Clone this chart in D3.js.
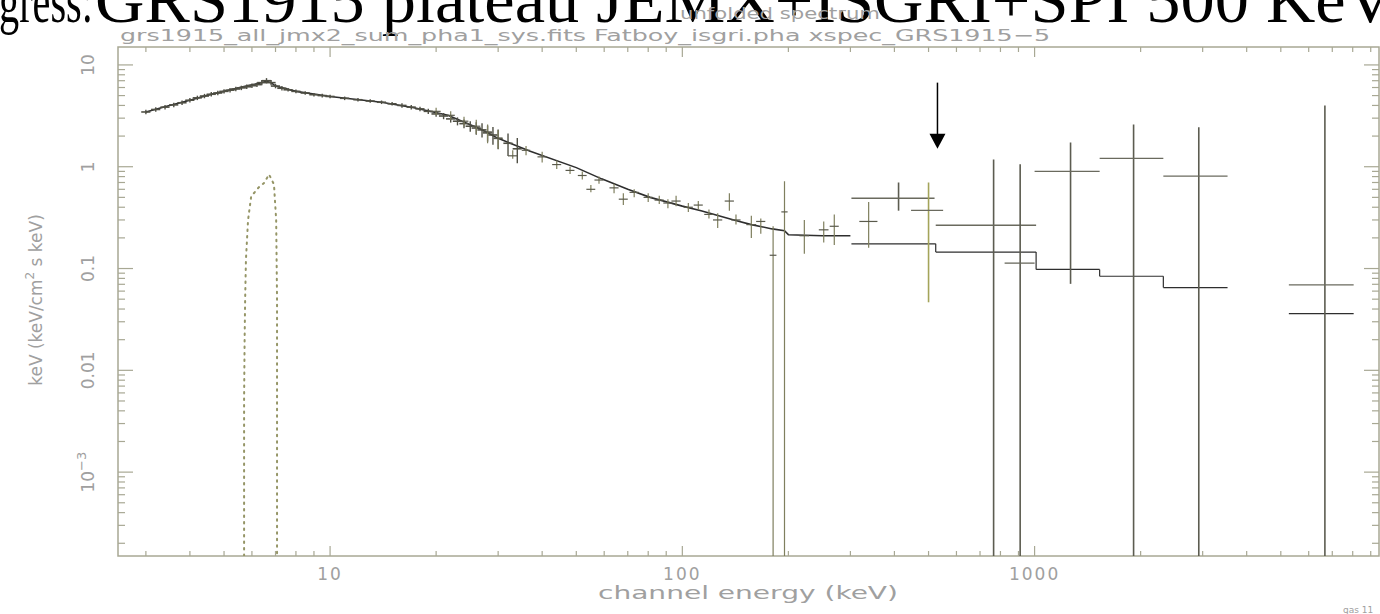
<!DOCTYPE html>
<html>
<head>
<meta charset="utf-8">
<script src="https://cdn.jsdelivr.net/npm/d3@7"></script>
<style>
body { margin: 0; background: #fff; }
svg text { font-family: "DejaVu Sans", sans-serif; }
</style>
</head>
<body>
<svg id="chart" width="1380" height="614"></svg>
<script>
// JEM-X points (keV, keV^2 flux), with relative error
var jemxE = [3.0,3.2,3.4,3.6,3.8,4.0,4.2,4.4,4.6,4.8,5.0,5.2,5.4,5.6,5.8,6.0,6.2,6.4,6.6,6.8,7.0,7.3,7.6,8.0,8.5,9.0,9.5,10,11,12,13,14,15,16,17,18,19,20,21,22,23,24,25,26,27,28,29,30,32,34];
var jemxF = [3.45,3.65,3.85,4.05,4.25,4.5,4.75,4.95,5.15,5.3,5.5,5.65,5.8,5.95,6.1,6.25,6.4,6.7,7.0,6.7,6.2,5.9,5.7,5.5,5.3,5.1,5.0,4.9,4.7,4.55,4.42,4.3,4.15,4.0,3.85,3.7,3.5,3.3,3.15,2.95,2.8,2.65,2.5,2.4,2.3,2.15,2.05,1.9,1.7,1.5];
var jemxErr = [0.05,0.05,0.05,0.05,0.05,0.05,0.05,0.05,0.05,0.05,0.05,0.05,0.05,0.05,0.05,0.05,0.05,0.06,0.06,0.06,0.05,0.05,0.04,0.04,0.04,0.04,0.04,0.04,0.04,0.04,0.04,0.04,0.04,0.05,0.05,0.05,0.06,0.06,0.07,0.08,0.09,0.1,0.12,0.14,0.16,0.18,0.2,0.22,0.25,0.28];

// ISGRI points
var isgriE  = [20,22,24,26,28,30,33,36,40,44,48,52,55,58,64,68,73,80,86,91,96,104,111,119,126,136,142,157,167,181,195,222,252,270,338];
var isgriF  = [3.5,3.2,2.8,2.5,2.2,1.9,1.28,1.45,1.25,1.05,0.92,0.82,0.6,0.74,0.62,0.48,0.56,0.5,0.47,0.44,0.46,0.4,0.42,0.34,0.3,0.46,0.3,0.27,0.29,0.135,0.36,0.21,0.24,0.26,0.29];
var isgriLo = [3.2,2.9,2.5,2.1,1.7,1.5,1.2,1.3,1.1,0.95,0.85,0.75,0.56,0.68,0.55,0.42,0.5,0.45,0.43,0.39,0.41,0.36,0.38,0.31,0.25,0.37,0.27,0.2,0.22,0.0001,0.0001,0.14,0.18,0.17,0.16];
var isgriHi = [3.8,3.5,3.1,2.9,2.6,2.3,1.45,1.6,1.4,1.15,1.0,0.9,0.66,0.8,0.68,0.55,0.6,0.55,0.52,0.48,0.52,0.44,0.46,0.38,0.35,0.55,0.34,0.33,0.31,0.26,0.72,0.3,0.29,0.34,0.45];
var isgriDE = [0.6,0.6,0.7,0.7,0.8,0.8,1,1,1.2,1.3,1.4,1.5,1.6,1.7,1.9,2,2.2,2.4,2.6,2.7,2.9,3.1,3.3,3.6,3.8,4.1,4.3,5,5,4,4,7,8,8,20];

// SPI bins
var spiE   = [411,500,765,910,1265,1910,2925,6670];
var spiF   = [0.49,0.373,0.266,0.113,0.9,1.21,0.81,0.069];
var spiLo  = [0.37,0.0466,0.0001,0.0001,0.0707,0.0001,0.0001,0.0001];
var spiHi  = [0.7,0.7,1.18,1.06,1.73,2.6,2.44,4.0];
var spiBin0 = [302,446,524,822,1000,1530,2320,5270];
var spiBin1 = [520,550,1010,1000,1530,2320,3530,8050];

// model: continuum curve then SPI steps
var modelE = [3.0,3.5,4.0,4.5,5.0,5.5,5.9,6.3,6.6,6.8,7.0,8.0,10,14,17.3,21.6,26.8,30,37,50,59,70,81,100,113,140,157,180,195,200,250,300];
var modelF = [3.45,4.0,4.5,5.05,5.5,5.95,6.3,6.6,6.9,6.7,6.2,5.5,4.9,4.3,3.8,3.2,2.33,1.9,1.42,0.98,0.76,0.6,0.5,0.41,0.37,0.3,0.27,0.245,0.235,0.215,0.21,0.21];
var stepE0 = [302,524,1010,1530,2320,5270];
var stepE1 = [524,1010,1530,2320,3530,8050];
var stepF  = [0.175,0.145,0.098,0.084,0.065,0.036];

// iron line component (dotted)
var lineE = [5.70,5.70,5.72,5.74,5.77,5.85,5.97,6.28,6.49,6.71,6.93,7.03,7.07,7.07,7.07];
var lineF = [0.00015,0.0052,0.02,0.05,0.123,0.30,0.51,0.63,0.69,0.84,0.67,0.30,0.05,0.0017,0.00015];

var xTickVals = [10, 100, 1000];
var xTickText = ["10", "100", "1000"];
var yTickVals = [10, 1, 0.1, 0.01, 0.001];
var yTickText = ["10", "1", "0.1", "0.01", "10"];

var axisCol = "#a8a894",
    textCol = "#a0a0a0",
    dataCol = "#4f4f44",
    modelCol = "#2e2e2e";

var svg = d3.select("#chart");
svg.append("rect").attr("width", 1380).attr("height", 614).attr("fill", "#fff");

var x = d3.scaleLog().domain([2.5, 9500]).range([118, 1379]);
var y = d3.scaleLog().domain([1.5e-4, 15]).range([556, 47]);

var x0 = x.range()[0], x1 = x.range()[1],
    y0 = y.range()[1], y1 = y.range()[0];

svg.append("clipPath").attr("id", "clip")
  .append("rect").attr("x", x0).attr("y", y0).attr("width", x1 - x0).attr("height", y1 - y0);

// title (cut off at the top of the picture)
var titleFont = "'Liberation Serif', 'Times New Roman', serif";
svg.append("text")
    .attr("x", -1).attr("y", 22)
    .attr("textLength", 94).attr("lengthAdjust", "spacingAndGlyphs")
    .style("font-family", titleFont).style("font-size", "62px")
    .attr("fill", "#000")
    .text("gress:");
svg.append("text")
    .attr("x", 95).attr("y", 22)
    .attr("textLength", 1300).attr("lengthAdjust", "spacingAndGlyphs")
    .style("font-family", titleFont).style("font-size", "66px")
    .attr("fill", "#000")
    .text("GRS1915 plateau JEMX+ISGRI+SPI 500 KeV");

svg.append("text").attr("x", 780).attr("y", 19)
    .attr("text-anchor", "middle").attr("fill", textCol)
    .attr("textLength", 200).attr("lengthAdjust", "spacingAndGlyphs")
    .style("font-size", "15px")
    .text("unfolded spectrum");
svg.append("text").attr("x", 120).attr("y", 41)
    .attr("fill", textCol)
    .attr("textLength", 930).attr("lengthAdjust", "spacingAndGlyphs")
    .style("font-size", "16px")
    .text("grs1915_all_jmx2_sum_pha1_sys.fits Fatboy_isgri.pha xspec_GRS1915\u22125");

// frame
svg.append("rect").attr("x", x0).attr("y", y0).attr("width", x1 - x0).attr("height", y1 - y0)
    .attr("fill", "none").attr("stroke", axisCol).attr("stroke-width", 1.5);

// ticks
var xt = x.ticks();
var g = svg.append("g").attr("stroke", axisCol).attr("stroke-width", 1.2);
xt.forEach(function(v) {
    var major = Math.abs(Math.log10(v) - Math.round(Math.log10(v))) < 1e-9;
    var len = major ? 10 : 5;
    g.append("line").attr("x1", x(v)).attr("x2", x(v)).attr("y1", y1).attr("y2", y1 - len);
    g.append("line").attr("x1", x(v)).attr("x2", x(v)).attr("y1", y0).attr("y2", y0 + len);
});
var yt = y.ticks();
yt.forEach(function(v) {
    var major = Math.abs(Math.log10(v) - Math.round(Math.log10(v))) < 1e-9;
    var len = major ? 15 : 7;
    g.append("line").attr("y1", y(v)).attr("y2", y(v)).attr("x1", x0).attr("x2", x0 + len);
    g.append("line").attr("y1", y(v)).attr("y2", y(v)).attr("x1", x1).attr("x2", x1 - len);
});

// tick labels
xTickVals.forEach(function(v, i) {
    svg.append("text").attr("x", x(v)).attr("y", 580)
        .attr("text-anchor", "middle").attr("fill", textCol)
        .style("font-size", "17px").style("letter-spacing", "2px")
        .text(xTickText[i]);
});
yTickVals.forEach(function(v, i) {
    var t = svg.append("text")
        .attr("transform", "translate(94," + y(v) + ") rotate(-90)")
        .attr("text-anchor", "middle").attr("fill", textCol)
        .style("font-size", "17px")
        .text(yTickText[i]);
    if (v === 0.001) {
        t.append("tspan").attr("dy", -8).style("font-size", "13px").text("\u22123");
    }
});

svg.append("text").attr("x", 748).attr("y", 599)
    .attr("text-anchor", "middle").attr("fill", textCol)
    .attr("textLength", 300).attr("lengthAdjust", "spacingAndGlyphs")
    .style("font-size", "18px")
    .text("channel energy (keV)");

var yl = svg.append("text")
    .attr("transform", "translate(42,300) rotate(-90)")
    .attr("text-anchor", "middle").attr("fill", textCol)
    .style("font-size", "17px");
yl.append("tspan").text("keV (keV/cm");
yl.append("tspan").attr("dy", -8).style("font-size", "12px").text("2");
yl.append("tspan").attr("dy", 8).text(" s keV)");

svg.append("text").attr("x", 1343).attr("y", 613)
    .attr("fill", textCol).style("font-size", "9px").text("gas 11");

var plot = svg.append("g").attr("clip-path", "url(#clip)");

// iron line, dotted
var lineGen = d3.line().x(function(d) { return x(d[0]); }).y(function(d) { return y(d[1]); });
plot.append("path")
    .attr("d", lineGen(d3.zip(lineE, lineF)))
    .attr("fill", "none").attr("stroke", "#959566").attr("stroke-width", 2)
    .attr("stroke-dasharray", "1.5,5").attr("stroke-linecap", "round");

// model
plot.append("path")
    .attr("d", lineGen(d3.zip(modelE, modelF)))
    .attr("fill", "none").attr("stroke", modelCol).attr("stroke-width", 1.6);
stepF.forEach(function(f, i) {
    plot.append("line").attr("x1", x(stepE0[i])).attr("x2", x(stepE1[i]))
        .attr("y1", y(f)).attr("y2", y(f))
        .attr("stroke", modelCol).attr("stroke-width", 1.2);
    if (i > 0 && stepE0[i] === stepE1[i - 1]) {
        plot.append("line").attr("x1", x(stepE0[i])).attr("x2", x(stepE0[i]))
            .attr("y1", y(stepF[i - 1])).attr("y2", y(f))
            .attr("stroke", modelCol).attr("stroke-width", 1.2);
    }
});

// JEM-X points
jemxE.forEach(function(e, i) {
    var f = jemxF[i], r = jemxErr[i];
    plot.append("line").attr("x1", x(e)).attr("x2", x(e))
        .attr("y1", y(f * (1 - r))).attr("y2", y(f * (1 + r)))
        .attr("stroke", dataCol).attr("stroke-width", 1.4);
    plot.append("line").attr("x1", x(e * 0.97)).attr("x2", x(e * 1.03))
        .attr("y1", y(f)).attr("y2", y(f))
        .attr("stroke", dataCol).attr("stroke-width", 1.6);
});

// ISGRI points
isgriE.forEach(function(e, i) {
    plot.append("line").attr("x1", x(e)).attr("x2", x(e))
        .attr("y1", y(isgriLo[i])).attr("y2", y(isgriHi[i]))
        .attr("stroke", "#7f7f5e").attr("stroke-width", 1.2);
    plot.append("line").attr("x1", x(e - isgriDE[i])).attr("x2", x(e + isgriDE[i]))
        .attr("y1", y(isgriF[i])).attr("y2", y(isgriF[i]))
        .attr("stroke", "#5a5a4c").attr("stroke-width", 1.2);
});

// SPI points
spiE.forEach(function(e, i) {
    plot.append("line").attr("x1", x(e)).attr("x2", x(e))
        .attr("y1", y(spiLo[i])).attr("y2", y(spiHi[i]))
        .attr("stroke", i === 1 ? "#a4a45a" : "#5c5c50").attr("stroke-width", 1.6);
    plot.append("line").attr("x1", x(spiBin0[i])).attr("x2", x(spiBin1[i]))
        .attr("y1", y(spiF[i])).attr("y2", y(spiF[i]))
        .attr("stroke", "#6a6a5e").attr("stroke-width", 1.3);
});

// arrow marking 500 keV
var arrowE = 530, arrowTop = 6.7, arrowTip = 1.5;
svg.append("line").attr("x1", x(arrowE)).attr("x2", x(arrowE))
    .attr("y1", y(arrowTop)).attr("y2", y(arrowTip) - 12)
    .attr("stroke", "#000").attr("stroke-width", 1.5);
svg.append("path")
    .attr("d", "M" + (x(arrowE) - 8) + "," + (y(arrowTip) - 15) + "L" + (x(arrowE) + 8) + "," + (y(arrowTip) - 15) + "L" + x(arrowE) + "," + y(arrowTip) + "Z")
    .attr("fill", "#000");
</script>
</body>
</html>
